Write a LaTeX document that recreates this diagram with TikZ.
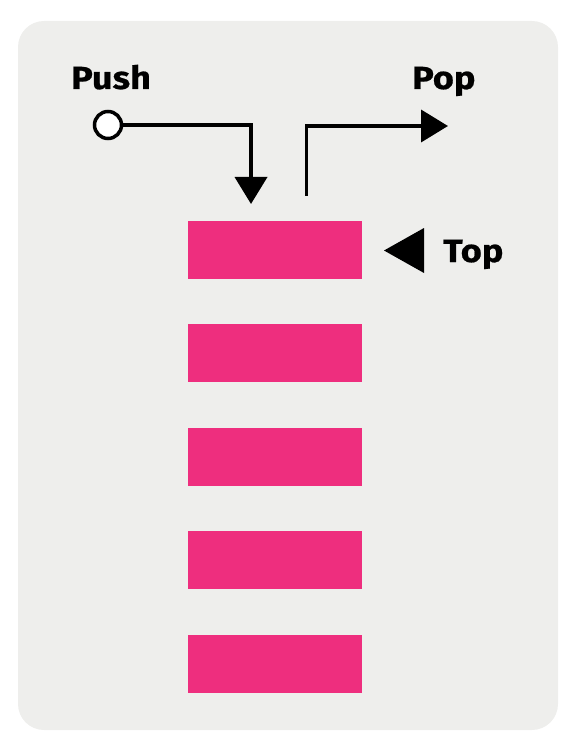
\documentclass[tikz,border=0pt]{standalone}
\usepackage{fontspec}
\setmainfont{Fira Sans}
\newfontfamily\lblfont[FakeStretch=1.13, FakeBold=0.6]{Fira Sans}
\usetikzlibrary{arrows.meta}
\definecolor{bgc}{HTML}{EEEEEC}
\definecolor{pinkc}{HTML}{EE2E7E}
\tikzset{
  stackbox/.style={fill=pinkc, draw=none, minimum width=174pt, minimum height=58pt, inner sep=0pt, anchor=north west},
  conn/.style={line width=3.8pt, -{Triangle[length=27pt,width=32pt]}},
  lbl/.style={font=\lblfont\fontsize{32}{36}\selectfont\bfseries, anchor=base west, inner sep=0pt},
}
\begin{document}
\begin{tikzpicture}[x=1pt,y=-1pt]
\useasboundingbox (0,0) rectangle (575,751);
\fill[bgc, rounded corners=26pt] (18,21) rectangle (558,730);
\node[stackbox] (r1) at (188,221) {};
\node[stackbox] (r2) at (188,324) {};
\node[stackbox] (r3) at (188,428) {};
\node[stackbox] (r4) at (188,531) {};
\node[stackbox] (r5) at (188,635) {};
\node[lbl] (push) at (71,89) {Push};
\node[lbl] (pop) at (412,89) {Pop};
\node[lbl] (top) at (443,262) {Top};
\node[circle, draw, line width=3.5pt, fill=white, minimum size=27pt, inner sep=0pt] (pin) at (108,125) {};
\coordinate (pushEnd) at (251,204);
\coordinate (popStart) at (306.5,196);
\coordinate (popEnd) at (448,126);
\draw[conn] (pin.east) -| (pushEnd);
\draw[conn] (popStart) |- (popEnd);
\fill (424,228) -- (384,250.5) -- (424,273) -- cycle;
\end{tikzpicture}
\end{document}
